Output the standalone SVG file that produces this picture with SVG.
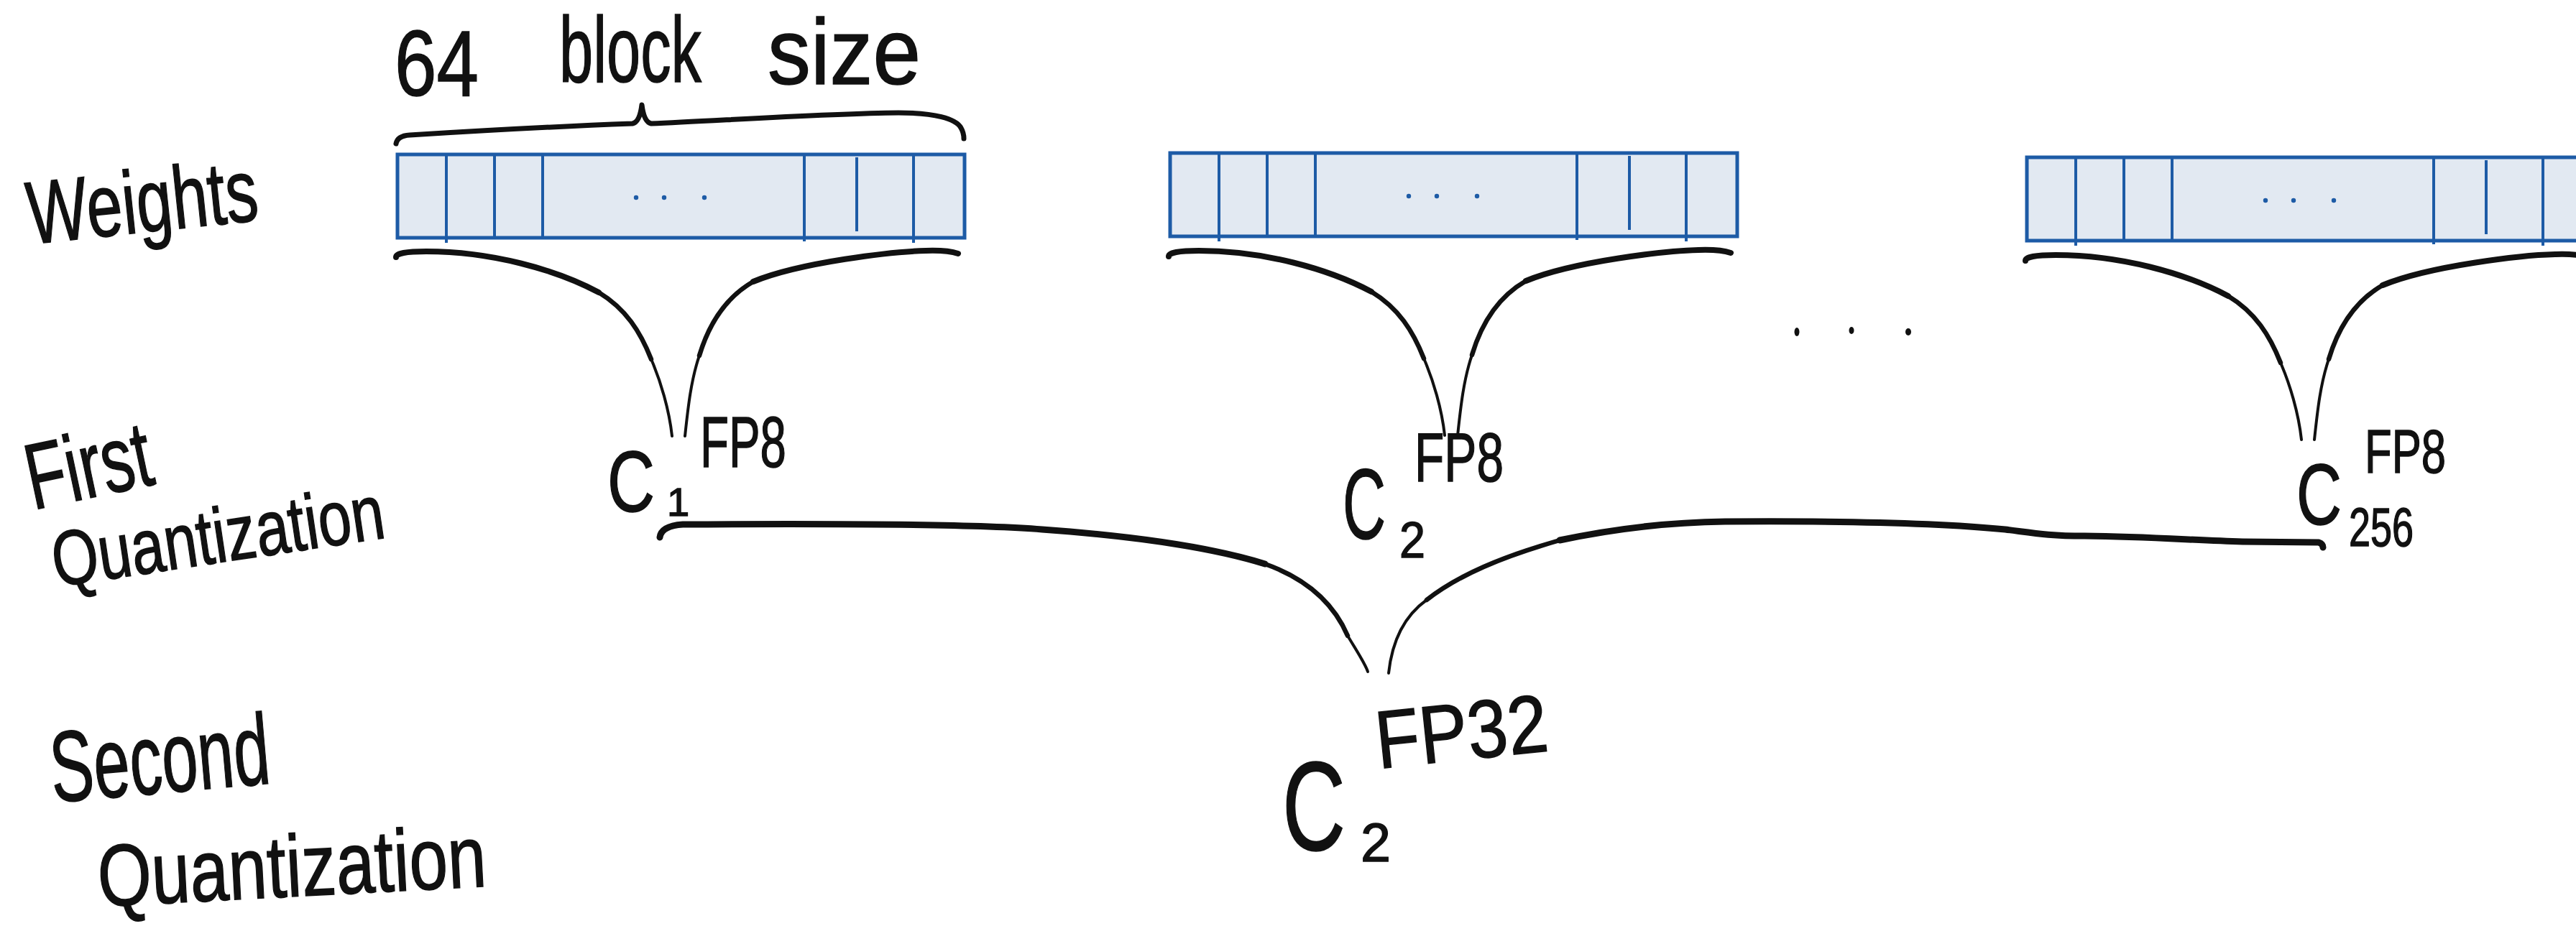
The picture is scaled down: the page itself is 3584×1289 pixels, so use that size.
<svg xmlns="http://www.w3.org/2000/svg" xmlns:xlink="http://www.w3.org/1999/xlink" width="3584" height="1289" viewBox="0 0 3584 1289">
  <style>
    .hand { font-family: "Liberation Sans", Arial, sans-serif; fill: #111; stroke: #111; stroke-width: 1.5; }
    .box { fill: #e2e9f2; stroke: #1d5ba6; stroke-width: 5; }
    .div { fill: none; stroke: #1d5ba6; stroke-width: 4; }
    .dot { fill: #1d5ba6; }
    .ink { fill: none; stroke: #111; stroke-linecap: round; stroke-linejoin: round; }
    .w7 { stroke-width: 8; }
    .w8 { stroke-width: 9; }
    .w6 { stroke-width: 6.5; }
    .w3 { stroke-width: 4; }
  </style>
  <defs>
    <!-- one block of 64 weights: cells, a gap with dots, cells -->
    <g id="block">
      <rect class="box" x="0" y="0" width="789" height="116"/>
      <path class="div" d="M68 0 V123 M135 0 V116 M202 0 V116 M566 0 V121 M639 4 V107 M718 0 V123"/>
      <circle class="dot" cx="332" cy="60" r="3.2"/>
      <circle class="dot" cx="371" cy="60" r="3.2"/>
      <circle class="dot" cx="427" cy="60" r="3.2"/>
    </g>
    <!-- brace gathering one block down to its constant -->
    <g id="v-brace">
      <path class="ink w7" d="M-2 358 Q-2 350 40 350 C130 350 220 375 280 407"/>
      <path class="ink w6" d="M280 407 C318 430 338 462 353 500"/>
      <path class="ink w3" d="M353 500 C366 530 378 570 382 607"/>
      <path class="ink w3" d="M400 607 C404 570 408 530 420 495"/>
      <path class="ink w6" d="M420 495 C432 455 455 415 495 392"/>
      <path class="ink w7" d="M495 392 C560 365 690 350 735 349 Q765 348 780 353"/>
    </g>
  </defs>

  <!-- row titles -->
  <g id="label-weights">
    <text class="hand" font-size="124" x="42" y="340" textLength="322" lengthAdjust="spacingAndGlyphs" transform="rotate(-6 42 340)">Weights</text>
  </g>
  <g id="label-first">
    <text class="hand" font-size="130" x="46" y="710" textLength="176" lengthAdjust="spacingAndGlyphs" transform="rotate(-12 46 710)">First</text>
    <text class="hand" font-size="108" x="78" y="817" textLength="466" lengthAdjust="spacingAndGlyphs" transform="rotate(-8.5 78 817)">Quantization</text>
  </g>
  <g id="label-second">
    <text class="hand" font-size="140" x="74" y="1117" textLength="306" lengthAdjust="spacingAndGlyphs" transform="rotate(-5 74 1117)">Second</text>
    <text class="hand" font-size="122" x="138" y="1262" textLength="541" lengthAdjust="spacingAndGlyphs" transform="rotate(-3 138 1262)">Quantization</text>
  </g>

  <!-- block size annotation -->
  <g id="block-size">
    <text class="hand" font-size="130"><tspan x="549" y="133" textLength="117" lengthAdjust="spacingAndGlyphs">64</tspan> <tspan x="778" y="114" textLength="198" lengthAdjust="spacingAndGlyphs">block</tspan> <tspan x="1068" y="117" textLength="213" lengthAdjust="spacingAndGlyphs">size</tspan></text>
  </g>

  <!-- weight blocks -->
  <g id="block-1"><use xlink:href="#block" href="#block" x="553" y="215"/></g>
  <g id="block-2"><use xlink:href="#block" href="#block" x="1628" y="213"/></g>
  <g id="block-3"><use xlink:href="#block" href="#block" x="2820" y="219"/></g>

  <!-- more blocks in between -->
  <g id="ellipsis">
    <ellipse cx="2500" cy="462" rx="3.5" ry="6" fill="#111"/>
    <ellipse cx="2576" cy="460" rx="3.5" ry="5" fill="#111"/>
    <ellipse cx="2655" cy="462" rx="4" ry="5" fill="#111"/>
  </g>

  <!-- first-level constants -->
  <g id="const-1">
    <text class="hand"><tspan x="845" y="712" font-size="120" textLength="66" lengthAdjust="spacingAndGlyphs">C</tspan><tspan x="928" y="718" font-size="56">1</tspan><tspan x="974" y="650" font-size="100" textLength="120" lengthAdjust="spacingAndGlyphs">FP8</tspan></text>
  </g>
  <g id="const-2">
    <text class="hand"><tspan x="1868" y="750" font-size="140" textLength="60" lengthAdjust="spacingAndGlyphs">C</tspan><tspan x="1947" y="776" font-size="70" textLength="36" lengthAdjust="spacingAndGlyphs">2</tspan><tspan x="1968" y="670" font-size="97" textLength="124" lengthAdjust="spacingAndGlyphs">FP8</tspan></text>
  </g>
  <g id="const-256">
    <text class="hand"><tspan x="3195" y="730" font-size="120" textLength="63" lengthAdjust="spacingAndGlyphs">C</tspan><tspan x="3268" y="760" font-size="76" textLength="90" lengthAdjust="spacingAndGlyphs">256</tspan><tspan x="3290" y="658" font-size="85" textLength="113" lengthAdjust="spacingAndGlyphs">FP8</tspan></text>
  </g>

  <!-- second-level constant -->
  <g id="const-second">
    <text class="hand"><tspan x="1784" y="1183" font-size="176" textLength="88" lengthAdjust="spacingAndGlyphs">C</tspan><tspan x="1893" y="1199" font-size="76" textLength="42" lengthAdjust="spacingAndGlyphs">2</tspan></text>
    <text class="hand" font-size="114" x="1918" y="1070" textLength="240" lengthAdjust="spacingAndGlyphs" transform="rotate(-6 1918 1070)">FP32</text>
  </g>

  <!-- braces -->
  <g id="connectors">
    <path class="ink" stroke-width="7" d="M551 200 Q553 189 570 188 C650 183 800 175 880 172 Q890 170 893 146 Q896 170 906 172 C1000 168 1150 158 1250 157 C1300 157 1330 165 1337 178 Q1341 185 1341 193"/>
    <use xlink:href="#v-brace" href="#v-brace" transform="translate(553 0)"/>
    <use xlink:href="#v-brace" href="#v-brace" transform="translate(1628 -1)"/>
    <use xlink:href="#v-brace" href="#v-brace" transform="translate(2820 5)"/>
    <path class="ink w8" d="M918 748 Q920 732 950 730 C1100 729 1350 729 1450 737 C1560 745 1680 760 1760 785"/>
    <path class="ink w6" d="M1760 785 C1830 810 1860 850 1875 885"/>
    <path class="ink w3" d="M1875 885 C1890 910 1900 925 1903 935"/>
    <path class="ink w3" d="M1932 937 C1936 900 1950 860 1985 835"/>
    <path class="ink w6" d="M1985 835 C2030 800 2090 775 2170 752"/>
    <path class="ink w8" d="M2170 752 C2250 735 2320 727 2400 726 C2550 725 2700 728 2790 737 C2830 742 2850 746 2900 746 C2990 747 3050 752 3120 754 L3226 755 Q3232 757 3232 762"/>
  </g>
</svg>
